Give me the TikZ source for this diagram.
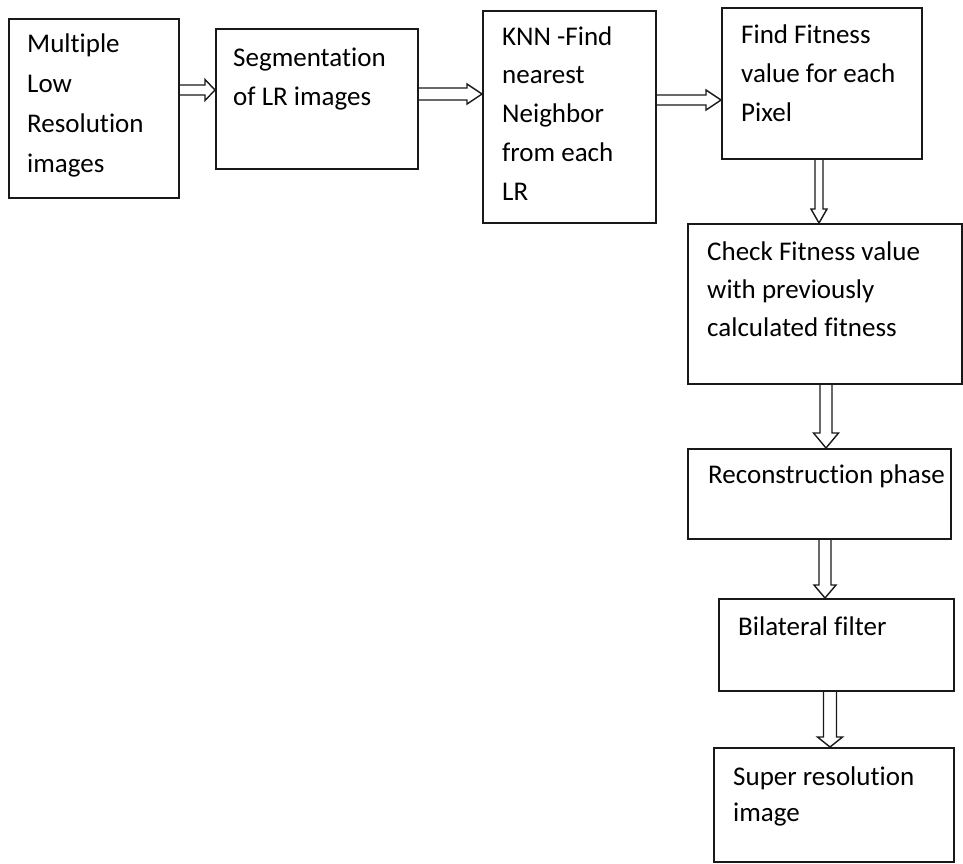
\documentclass[tikz,border=0pt]{standalone}
\usepackage{fontspec}
\setmainfont[Ligatures=NoCommon]{Carlito}
\usetikzlibrary{calc}
\tikzset{
  box/.style={draw=black!90, line width=1.5pt, inner sep=0pt, anchor=north west},
  lbl/.style={inner sep=0pt, anchor=base west, align=left, text=black,
    font=\fontsize{27}{39}\selectfont},
  arr/.style={draw=black!90, line width=1.4pt, line join=miter},
}
\newcommand\harr[5]{%
  \draw[arr] ($(#1)+(0,-#3)$) -- ($(#2)+(-#5,-#3)$) -- ($(#2)+(-#5,-#4)$) -- (#2)
    -- ($(#2)+(-#5,#4)$) -- ($(#2)+(-#5,#3)$) -- ($(#1)+(0,#3)$);}
\newcommand\varr[5]{%
  \draw[arr] ($(#1)+(-#3,0)$) -- ($(#2)+(-#3,-#5)$) -- ($(#2)+(-#4,-#5)$) -- (#2)
    -- ($(#2)+(#4,-#5)$) -- ($(#2)+(#3,-#5)$) -- ($(#1)+(#3,0)$);}
\begin{document}
\begin{tikzpicture}[x=1pt,y=-1pt]
\useasboundingbox[fill=white] (0,0) rectangle (963,863);
% boxes
\node[box, minimum width=170pt, minimum height=179pt] (b1) at (8,18) {};
\node[box, minimum width=202pt, minimum height=140pt] (b2) at (215,28) {};
\node[box, minimum width=173pt, minimum height=212pt] (b3) at (482,10) {};
\node[box, minimum width=200pt, minimum height=151pt] (b4) at (721,7) {};
\node[box, minimum width=274pt, minimum height=160pt] (b5) at (687,223) {};
\node[box, minimum width=263pt, minimum height=90pt] (b6) at (687,448) {};
\node[box, minimum width=235pt, minimum height=92pt] (b7) at (718,598) {};
\node[box, minimum width=240pt, minimum height=114pt] (b8) at (713,747) {};
% texts (anchored at the baseline of their last line)
\node[lbl, font=\fontsize{27}{39.7}\selectfont] (t1) at (27,172) {Multiple\\Low\\Resolution\\images};
\node[lbl] (t2) at (233,105) {Segmentation\\of LR images};
\node[lbl, font=\fontsize{27}{38.7}\selectfont] (t3) at (502,200) {KNN -Find\\nearest\\Neighbor\\from each\\LR};
\node[lbl] (t4) at (741,121) {Find Fitness\\value for each\\Pixel};
\node[lbl, font=\fontsize{27}{38}\selectfont] (t5) at (707,336) {Check Fitness value\\with previously\\calculated fitness};
\node[lbl] (t6) at (708,483) {Reconstruction phase};
\node[lbl] (t7) at (738,635) {Bilateral filter};
\node[lbl, font=\fontsize{27}{36}\selectfont] (t8) at (733,821) {Super resolution\\image};
% arrow anchor points
\coordinate (a1s) at (b1.east |- 0,90);
\coordinate (a1t) at (b2.west |- 0,90);
\coordinate (a2s) at (b2.east |- 0,94);
\coordinate (a2t) at (b3.west |- 0,94);
\coordinate (a3s) at (b3.east |- 0,100);
\coordinate (a3t) at (b4.west |- 0,100);
\coordinate (v1s) at (b4.south -| 819,0);
\coordinate (v1t) at (b5.north -| 819,0);
\coordinate (v2s) at (b5.south -| 826,0);
\coordinate (v2t) at (b6.north -| 826,0);
\coordinate (v3s) at (b6.south -| 825,0);
\coordinate (v3t) at (b7.north -| 825,0);
\coordinate (v4s) at (b7.south -| 830,0);
\coordinate (v4t) at (b8.north -| 830,0);
% block arrows
\harr{a1s}{a1t}{5}{10.5}{10}
\harr{a2s}{a2t}{6}{10}{15}
\harr{a3s}{a3t}{5}{10}{15}
\varr{v1s}{v1t}{4}{8}{14}
\varr{v2s}{v2t}{6}{12.5}{15}
\varr{v3s}{v3t}{6}{11}{13}
\varr{v4s}{v4t}{6.5}{12.5}{10}
\end{tikzpicture}
\end{document}
